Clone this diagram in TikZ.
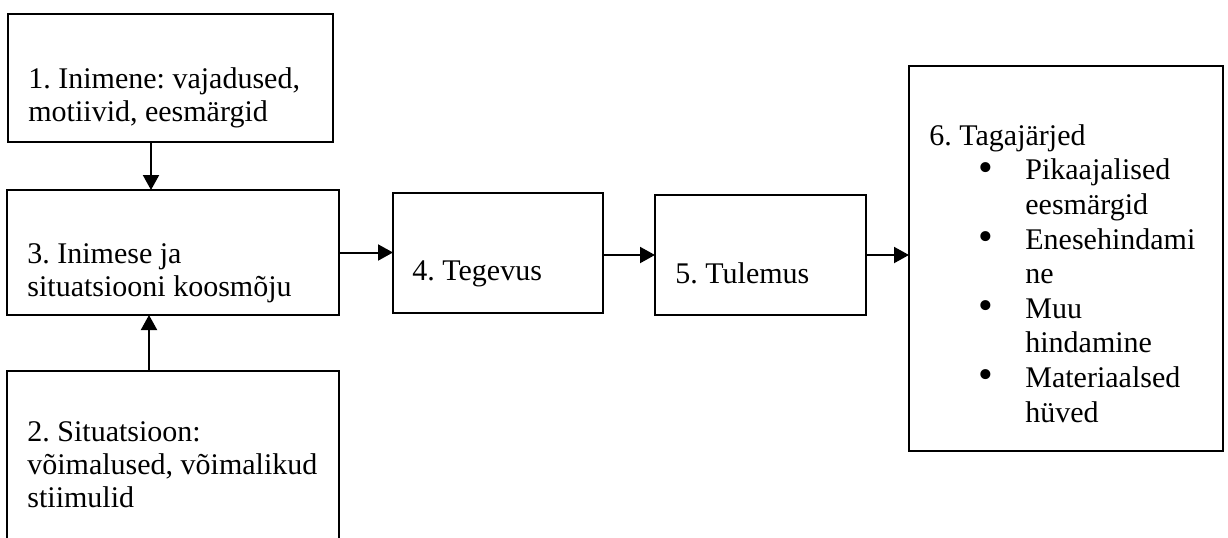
\documentclass[tikz,border=0pt]{standalone}
\usepackage{fontspec}
\setmainfont{Liberation Serif}
\usetikzlibrary{arrows.meta}
\frenchspacing
\newcommand{\bigbul}{\makebox[22.5pt][l]{\hspace*{-1pt}\raisebox{-0.6pt}{\scalebox{1.4}{•}}}}
\begin{document}
\begin{tikzpicture}[x=0.5pt,y=-0.5pt,
  box/.style={draw=black, line width=0.75pt, rectangle, inner sep=0pt, outer sep=0pt, anchor=north west},
  lbl/.style={anchor=base west, inner sep=0pt, align=left, font=\fontsize{15}{16.5}\selectfont},
  lblsix/.style={anchor=base west, inner sep=0pt, align=left, font=\fontsize{15}{17.3}\selectfont},
  arr/.style={line width=1pt, -{Triangle[length=7.5pt,width=8pt]}}]
\clip (0,0) rectangle (1228,537);
\node[box, minimum width=162.5pt, minimum height=64pt] (b1) at (8,14) {};
\node[box, minimum width=166pt, minimum height=62.5pt] (b3) at (7,190) {};
\node[box, minimum width=166pt, minimum height=104.5pt] (b2) at (7,371) {};
\node[box, minimum width=105pt, minimum height=60pt] (b4) at (393,193) {};
\node[box, minimum width=105.5pt, minimum height=60pt] (b5) at (655,195) {};
\node[box, minimum width=157pt, minimum height=192.5pt] (b6) at (909,66) {};
\node[lbl] (t1) at (28,121) {1. Inimene: vajadused,\\motiivid, eesmärgid};
\node[lbl] (t3) at (27,296) {3. Inimese ja\\situatsiooni koosmõju};
\node[lbl] (t2) at (27,507) {2. Situatsioon:\\võimalused, võimalikud\\stiimulid};
\node[lbl] (t4) at (412,280) {4. Tegevus};
\node[lbl] (t5) at (675,283) {5. Tulemus};
\node[lblsix] (t6) at (929,422) {6. Tagajärjed\\
\hspace*{25.5pt}\bigbul Pikaajalised\\
\hspace*{48pt}eesmärgid\\
\hspace*{25.5pt}\bigbul Enesehindami\\
\hspace*{48pt}ne\\
\hspace*{25.5pt}\bigbul Muu\\
\hspace*{48pt}hindamine\\
\hspace*{25.5pt}\bigbul Materiaalsed\\
\hspace*{48pt}hüved};
\coordinate (xa) at (151,0);
\coordinate (xb) at (149,0);
\draw[arr] (b1.south -| xa) -- (b3.north -| xa);
\draw[arr] (b2.north -| xb) -- (b3.south -| xb);
\draw[arr] (b3.east) -- (b3.east -| b4.west);
\draw[arr] (b5.west -| b4.east) -- (b5.west);
\draw[arr] (b5.east) -- (b5.east -| b6.west);
\end{tikzpicture}
\end{document}
